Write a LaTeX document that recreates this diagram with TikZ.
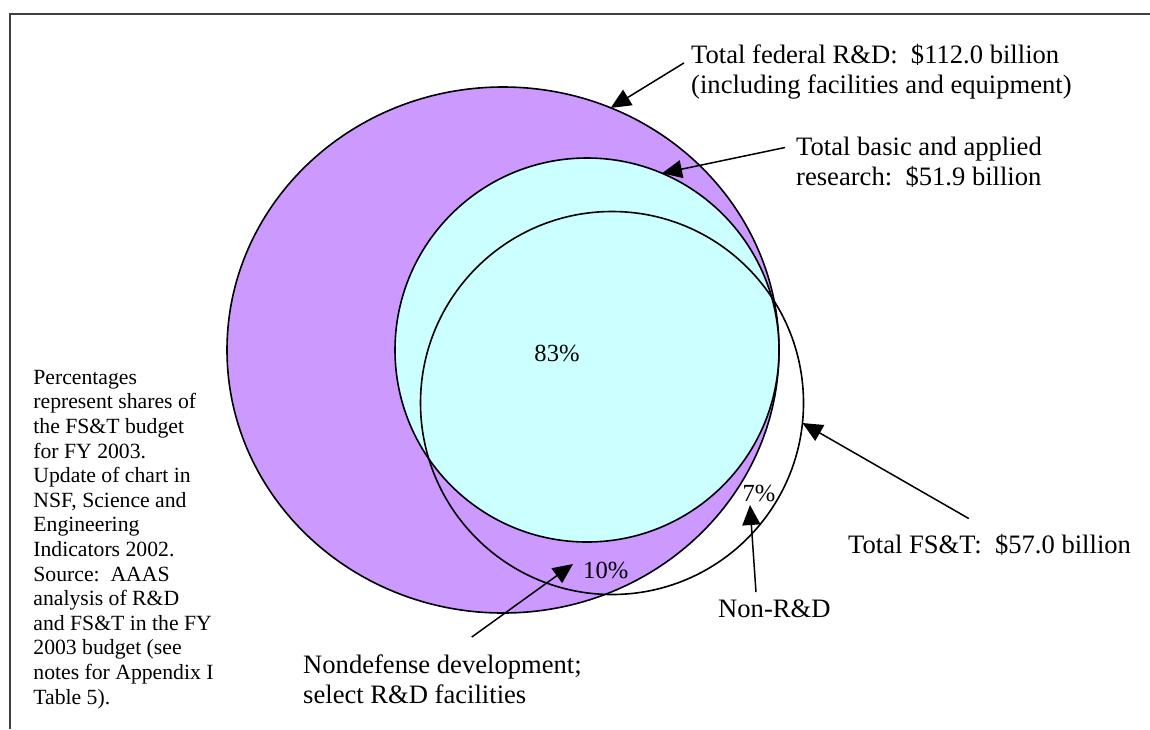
\documentclass[tikz,border=0pt]{standalone}
\usepackage{fontspec}
\setmainfont{Liberation Serif}
\usepackage{xcolor}
\usetikzlibrary{arrows.meta, calc, shapes.geometric, positioning}
\definecolor{rdpurple}{HTML}{CC99FF}
\definecolor{rescyan}{HTML}{CCFFFF}
\definecolor{framegray}{HTML}{404040}
\tikzset{
  % callout arrow style
  carr/.style={
    -{Triangle[length=10pt, width=9pt]}
    , line width=0.75pt
  },
}
\tikzset{
  % venn set style
  venn/.style={
    draw
    , line width=0.8pt
    , inner sep=0pt
    , outer sep=0pt
  },
  % callout label style
  lbl/.style={
    font=\fontsize{13.3}{15}\selectfont
    , align=left
    , anchor=base west
    , inner sep=3.4pt
  },
  % share label style
  pct/.style={
    font=\fontsize{12.3}{14}\selectfont
    , inner sep=3.4pt
  },
}

\begin{document}
\begin{tikzpicture}[x=0.5pt, y=-0.5pt]
  \useasboundingbox (0,0) rectangle (1150,729);
  % frame
  \draw[framegray, line width=1pt] (1150,14) -- (9.5,14) -- (9.5,729);

  % sets
  \node[venn, ellipse, fill=rdpurple
       , minimum width=276pt, minimum height=263pt] (fedrd) at (503,350) {};
  \node[venn, circle, fill=rescyan, minimum size=192pt] (research) at (587,350) {};
  \node[venn, circle, minimum size=191.5pt] (fst) at (612,403) {};

  % shares
  \node[pct] (pct83) at (557,353) {83\%};
  \node[pct, anchor=west] (pct10) at (576,570) {10\%};
  \node[pct] (pct7) at (759,493) {7\%};

  % labels (base = last line)
  \node[lbl] (fedlbl) at (684,93)
    {Total federal R\&D:\ \ \$112.0 billion\\(including facilities and equipment)};
  \node[lbl] (rchlbl) at (789,185)
    {Total basic and applied\\research:\ \ \$51.9 billion};
  \node[lbl] (fstlbl) at (841,553) {Total FS\&T:\ \ \$57.0 billion};
  \node[lbl] (nonrdlbl) at (711,617) {Non-R\&D};
  \node[lbl] (devlbl) at (296,703)
    {Nondefense development;\\select R\&D facilities};
  \node[font=\fontsize{10.85}{12.3}\selectfont, align=left
       , anchor=base west, inner sep=0pt] (note) at (33,704)
    {Percentages\\represent shares of\\the FS\&T budget\\for FY 2003.\\Update of chart in\\NSF, Science and\\Engineering\\Indicators 2002.\\Source:\ \ AAAS\\analysis of R\&D\\and FS\&T in the FY\\2003 budget (see\\notes for Appendix I\\Table 5).};

  % free ends
  \coordinate (devtip) at (573,564);
  \coordinate (nonrdtip) at (750,505);

  % callouts
  \draw[carr] ($(fedlbl.north west)!0.38!(fedlbl.south west)$) -- (fedrd.66.8);
  \draw[carr] ($(rchlbl.north west)!0.28!(rchlbl.south west)+(-4,0)$) -- (research.67.2);
  \draw[carr] ($(fstlbl.north west)!0.43!(fstlbl.north east)+(0,-8)$) -- (fst.-6.2);
  \draw[carr] ($(nonrdlbl.north west)!0.355!(nonrdlbl.north east)$) -- (nonrdtip);
  \draw[carr] ($(devlbl.north west)!0.6!(devlbl.north east)+(0,-10)$) -- (devtip);
\end{tikzpicture}
\end{document}
